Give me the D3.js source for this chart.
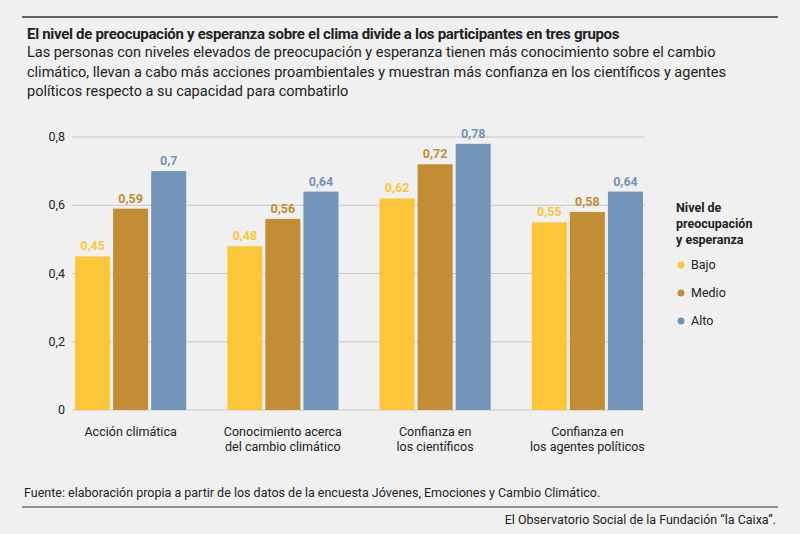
<!DOCTYPE html><html><head><meta charset="utf-8"><script src="https://cdn.jsdelivr.net/npm/d3@7"></script>
<style>body{margin:0;background:#f0f0f0}svg{font-family:"Roboto","Liberation Sans",sans-serif}</style></head><body><svg id="c" width="800" height="534"></svg><script>
const categories=[["Acción climática"],["Conocimiento acerca","del cambio climático"],["Confianza en","los científicos"],["Confianza en","los agentes políticos"]];
const series=["Bajo","Medio","Alto"];
const bajo=[0.45,0.48,0.62,0.55];
const medio=[0.59,0.56,0.72,0.58];
const alto=[0.7,0.64,0.78,0.64];
const yTicks=[0,0.2,0.4,0.6,0.8];
const colors=["#fcc63b","#c28d34","#7394b9"];
const vals=[bajo,medio,alto];
const svg=d3.select("#c");
svg.append("rect").attr("width",800).attr("height",534).attr("fill","#f0f0f0");
svg.append("line").attr("x1",22).attr("x2",778).attr("y1",17).attr("y2",17).attr("stroke","#333").attr("stroke-width",1.5);
svg.append("text").attr("x",27).attr("y",39).attr("font-size",15).attr("font-weight","bold").attr("fill","#222").attr("letter-spacing",-0.3).text("El nivel de preocupación y esperanza sobre el clima divide a los participantes en tres grupos");
["Las personas con niveles elevados de preocupación y esperanza tienen más conocimiento sobre el cambio","climático, llevan a cabo más acciones proambientales y muestran más confianza en los científicos y agentes","políticos respecto a su capacidad para combatirlo"].forEach((t,i)=>svg.append("text").attr("x",27).attr("y",57+i*19.5).attr("font-size",14.5).attr("fill","#222").text(t));
const y=d3.scaleLinear().domain([0,0.8]).range([410,137]);
const x=d3.scaleBand().domain(d3.range(4)).range([72,646]).paddingInner(0.27).paddingOuter(0.02);
const xs=d3.scaleBand().domain(d3.range(3)).range([0,x.bandwidth()]).paddingInner(0.08);
yTicks.forEach(t=>{svg.append("line").attr("x1",72).attr("x2",645).attr("y1",y(t)).attr("y2",y(t)).attr("stroke","#c8c8c8");
svg.append("text").attr("x",65).attr("y",y(t)+4).attr("text-anchor","end").attr("font-size",12.5).attr("fill","#222").text(String(t).replace(".",","));});
categories.forEach((c,i)=>{
 vals.forEach((v,s)=>{const bx=x(i)+xs(s);
  svg.append("rect").attr("x",bx).attr("y",y(v[i])).attr("width",xs.bandwidth()).attr("height",y(0)-y(v[i])).attr("fill",colors[s]);
  svg.append("text").attr("x",bx+xs.bandwidth()/2).attr("y",y(v[i])-6).attr("text-anchor","middle").attr("font-size",12.5).attr("font-weight","bold").attr("fill",colors[s]).text(String(v[i]).replace(".",","));});
 c.forEach((l,j)=>svg.append("text").attr("x",x(i)+x.bandwidth()/2).attr("y",436+j*15).attr("text-anchor","middle").attr("font-size",12.5).attr("fill","#222").text(l));
});
["Nivel de","preocupación","y esperanza"].forEach((t,i)=>svg.append("text").attr("x",676).attr("y",212+i*16).attr("font-size",12.5).attr("font-weight","bold").attr("fill","#222").text(t));
series.forEach((s,i)=>{svg.append("circle").attr("cx",681).attr("cy",265+i*28).attr("r",3.5).attr("fill",colors[i]);
 svg.append("text").attr("x",691).attr("y",269+i*28).attr("font-size",12.5).attr("fill","#222").text(s);});
svg.append("text").attr("x",24).attr("y",497).attr("font-size",12.5).attr("fill","#222").text("Fuente: elaboración propia a partir de los datos de la encuesta Jóvenes, Emociones y Cambio Climático.");
svg.append("line").attr("x1",22).attr("x2",778).attr("y1",507).attr("y2",507).attr("stroke","#333").attr("stroke-width",1);
svg.append("text").attr("x",776).attr("y",524).attr("text-anchor","end").attr("font-size",12.5).attr("fill","#222").text("El Observatorio Social de la Fundación “la Caixa”.");
</script></body></html>
